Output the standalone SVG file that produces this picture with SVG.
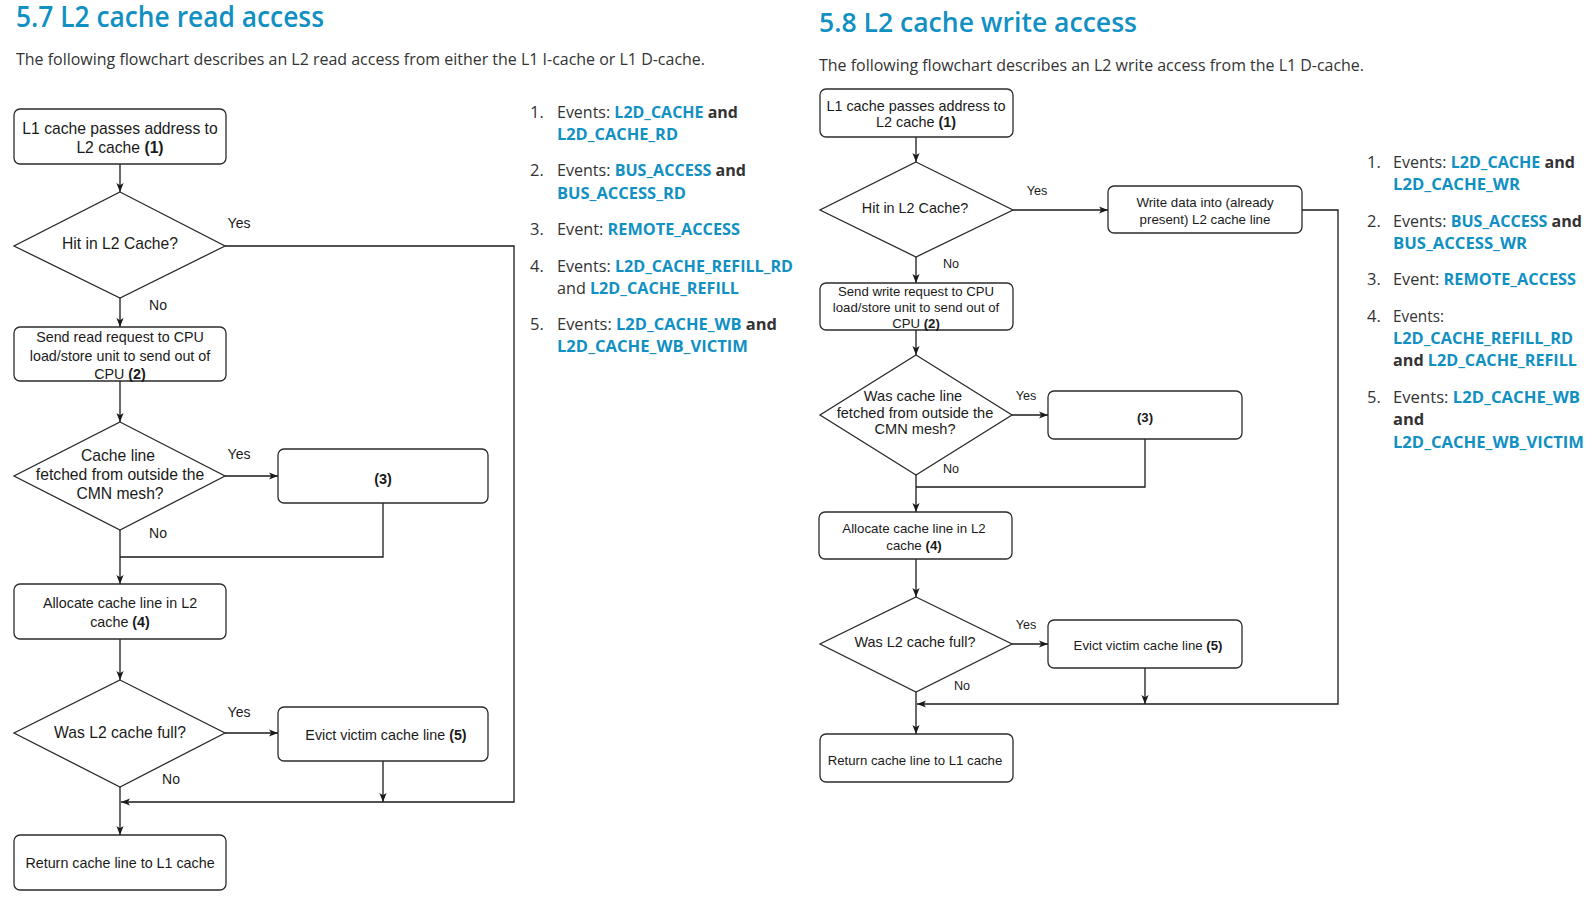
<svg xmlns="http://www.w3.org/2000/svg" width="1591" height="899" viewBox="0 0 1591 899">
<style>
.bg{fill:#ffffff}
.h{font-family:"Open Sans","Noto Sans",sans-serif;font-weight:600;fill:#1190c3}
.sub{font-family:"Open Sans","Noto Sans",sans-serif;font-size:16px;fill:#333333}
.li{font-family:"Open Sans","Noto Sans",sans-serif;font-size:16.5px;fill:#333333}
.b{font-weight:bold}
.ev{font-weight:bold;fill:#1190c3}
.box{fill:#ffffff;stroke:#2b2b2b;stroke-width:1.3}
.t{font-family:"Liberation Sans",Arial,sans-serif;fill:#1a1a1a;text-anchor:middle}
.lab{font-family:"Liberation Sans",Arial,sans-serif;fill:#1a1a1a;text-anchor:middle}
.c{fill:none;stroke:#1a1a1a;stroke-width:1.3}
.a{marker-end:url(#arr)}
</style>
<defs>
<marker id="arr" viewBox="0 0 10 10" refX="10" refY="5" markerWidth="9" markerHeight="9" markerUnits="userSpaceOnUse" orient="auto">
<path d="M0,1 L10,5 L0,9 L2.5,5 z" fill="#1a1a1a"/>
</marker>
</defs>
<rect class="bg" x="0" y="0" width="1591" height="899"/>

<!-- Headings and text -->
<g id="left-text">
<text class="h" x="16" y="27" font-size="28" textLength="308" lengthAdjust="spacingAndGlyphs">5.7 L2 cache read access</text>
<text class="sub" x="16" y="65" textLength="689" lengthAdjust="spacingAndGlyphs">The following flowchart describes an L2 read access from either the L1 I-cache or L1 D-cache.</text>
<g id="left-list">
<text class="li" x="530" y="118">1.</text>
<text class="li" x="557" y="118" textLength="181" lengthAdjust="spacingAndGlyphs">Events: <tspan class="ev">L2D_CACHE</tspan> <tspan class="b">and</tspan></text>
<text class="li ev" x="557" y="140" textLength="121" lengthAdjust="spacingAndGlyphs">L2D_CACHE_RD</text>
<text class="li" x="530" y="176">2.</text>
<text class="li" x="557" y="176" textLength="189" lengthAdjust="spacingAndGlyphs">Events: <tspan class="ev">BUS_ACCESS</tspan> <tspan class="b">and</tspan></text>
<text class="li ev" x="557" y="199" textLength="129" lengthAdjust="spacingAndGlyphs">BUS_ACCESS_RD</text>
<text class="li" x="530" y="235">3.</text>
<text class="li" x="557" y="235" textLength="183" lengthAdjust="spacingAndGlyphs">Event: <tspan class="ev">REMOTE_ACCESS</tspan></text>
<text class="li" x="530" y="272">4.</text>
<text class="li" x="557" y="272" textLength="236" lengthAdjust="spacingAndGlyphs">Events: <tspan class="ev">L2D_CACHE_REFILL_RD</tspan></text>
<text class="li" x="557" y="294" textLength="182" lengthAdjust="spacingAndGlyphs">and <tspan class="ev">L2D_CACHE_REFILL</tspan></text>
<text class="li" x="530" y="330">5.</text>
<text class="li" x="557" y="330" textLength="220" lengthAdjust="spacingAndGlyphs">Events:  <tspan class="ev">L2D_CACHE_WB</tspan> <tspan class="b">and</tspan></text>
<text class="li ev" x="557" y="352" textLength="191" lengthAdjust="spacingAndGlyphs">L2D_CACHE_WB_VICTIM</text>
</g>
</g>

<g id="right-text">
<text class="h" x="819" y="32" font-size="27" textLength="318" lengthAdjust="spacingAndGlyphs">5.8 L2 cache write access</text>
<text class="sub" x="819" y="71" textLength="545" lengthAdjust="spacingAndGlyphs">The following flowchart describes an L2 write access from the L1 D-cache.</text>
<g id="right-list">
<text class="li" x="1367" y="168">1.</text>
<text class="li" x="1393" y="168" textLength="182" lengthAdjust="spacingAndGlyphs">Events: <tspan class="ev">L2D_CACHE</tspan> <tspan class="b">and</tspan></text>
<text class="li ev" x="1393" y="190" textLength="127" lengthAdjust="spacingAndGlyphs">L2D_CACHE_WR</text>
<text class="li" x="1367" y="227">2.</text>
<text class="li" x="1393" y="227" textLength="189" lengthAdjust="spacingAndGlyphs">Events: <tspan class="ev">BUS_ACCESS</tspan> <tspan class="b">and</tspan></text>
<text class="li ev" x="1393" y="249" textLength="134" lengthAdjust="spacingAndGlyphs">BUS_ACCESS_WR</text>
<text class="li" x="1367" y="285">3.</text>
<text class="li" x="1393" y="285" textLength="183" lengthAdjust="spacingAndGlyphs">Event: <tspan class="ev">REMOTE_ACCESS</tspan></text>
<text class="li" x="1367" y="322">4.</text>
<text class="li" x="1393" y="322" textLength="51" lengthAdjust="spacingAndGlyphs">Events:</text>
<text class="li ev" x="1393" y="344" textLength="180" lengthAdjust="spacingAndGlyphs">L2D_CACHE_REFILL_RD</text>
<text class="li" x="1393" y="366" textLength="184" lengthAdjust="spacingAndGlyphs"><tspan class="b">and</tspan> <tspan class="ev">L2D_CACHE_REFILL</tspan></text>
<text class="li" x="1367" y="403">5.</text>
<text class="li" x="1393" y="403" textLength="187" lengthAdjust="spacingAndGlyphs">Events:  <tspan class="ev">L2D_CACHE_WB</tspan></text>
<text class="li b" x="1393" y="425">and</text>
<text class="li ev" x="1393" y="448" textLength="191" lengthAdjust="spacingAndGlyphs">L2D_CACHE_WB_VICTIM</text>
</g>
</g>

<!-- Connectors -->
<g id="connectors">
<path class="c a" d="M120,164 L120,192"/>
<path class="c a" d="M225,246 L514,246 L514,802 L121,802"/>
<path class="c a" d="M120,298 L120,327"/>
<path class="c a" d="M120,381 L120,422"/>
<path class="c a" d="M225,476 L278,476"/>
<path class="c" d="M383,503 L383,557 L120,557"/>
<path class="c a" d="M120,530 L120,584"/>
<path class="c a" d="M120,639 L120,680"/>
<path class="c a" d="M225,733 L278,733"/>
<path class="c a" d="M383,761 L383,802"/>
<path class="c a" d="M120,787 L120,835"/>

<path class="c a" d="M916,137 L916,162"/>
<path class="c a" d="M1013,210 L1108,210"/>
<path class="c a" d="M916,257 L916,283"/>
<path class="c a" d="M916,330 L916,355"/>
<path class="c a" d="M1012,415 L1048,415"/>
<path class="c" d="M1145,439 L1145,487 L916,487"/>
<path class="c a" d="M916,475 L916,512"/>
<path class="c a" d="M916,559 L916,597"/>
<path class="c a" d="M1012,644 L1048,644"/>
<path class="c a" d="M1145,668 L1145,704"/>
<path class="c a" d="M1302,210 L1338,210 L1338,704 L917,704"/>
<path class="c a" d="M916,692 L916,734"/>

<g id="connector-labels-left" class="lab" font-size="14">
<text x="239" y="228">Yes</text>
<text x="158" y="310">No</text>
<text x="239" y="459">Yes</text>
<text x="158" y="538">No</text>
<text x="239" y="717">Yes</text>
<text x="171" y="784">No</text>
</g>
<g id="connector-labels-right" class="lab" font-size="12.6">
<text x="1037" y="194.5">Yes</text>
<text x="951" y="267.5">No</text>
<text x="1026" y="399.5">Yes</text>
<text x="951" y="472.5">No</text>
<text x="1026" y="628.5">Yes</text>
<text x="962" y="689.5">No</text>
</g>
</g>

<!-- Left flowchart nodes -->
<g id="L-start">
<rect class="box" x="14" y="109" width="212" height="55" rx="6"/>
<text class="t" x="120" y="133.5" font-size="15.7">L1 cache passes address to</text>
<text class="t" x="120" y="152.5" font-size="15.7">L2 cache <tspan class="b">(1)</tspan></text>
</g>
<g id="L-hit">
<polygon class="box" points="120,192 225,246 120,298 14,246"/>
<text class="t" x="120" y="249" font-size="15.7">Hit in L2 Cache?</text>
</g>
<g id="L-send">
<rect class="box" x="14" y="327" width="212" height="54" rx="6"/>
<text class="t" x="120" y="342" font-size="14.3">Send read request to CPU</text>
<text class="t" x="120" y="360.5" font-size="14.3">load/store unit to send out of</text>
<text class="t" x="120" y="379" font-size="14.3">CPU <tspan class="b">(2)</tspan></text>
</g>
<g id="L-fetched">
<polygon class="box" points="120,422 225,476 120,530 14,476"/>
<text class="t" x="118" y="460.5" font-size="15.7">Cache line</text>
<text class="t" x="120" y="479.5" font-size="15.7">fetched from outside the</text>
<text class="t" x="120" y="498.5" font-size="15.7">CMN mesh?</text>
</g>
<g id="L-remote">
<rect class="box" x="278" y="449" width="210" height="54" rx="6"/>
<text class="t b" x="383" y="483.5" font-size="14.5">(3)</text>
</g>
<g id="L-alloc">
<rect class="box" x="14" y="584" width="212" height="55" rx="6"/>
<text class="t" x="120" y="608" font-size="14.3">Allocate cache line in L2</text>
<text class="t" x="120" y="627" font-size="14.3">cache <tspan class="b">(4)</tspan></text>
</g>
<g id="L-full">
<polygon class="box" points="120,680 225,733 120,787 14,733"/>
<text class="t" x="120" y="737.5" font-size="15.7">Was L2 cache full?</text>
</g>
<g id="L-evict">
<rect class="box" x="278" y="707" width="210" height="54" rx="6"/>
<text class="t" x="386" y="740" font-size="14.3">Evict victim cache line <tspan class="b">(5)</tspan></text>
</g>
<g id="L-return">
<rect class="box" x="14" y="835" width="212" height="55" rx="6"/>
<text class="t" x="120" y="868" font-size="14.3">Return cache line to L1 cache</text>
</g>

<!-- Right flowchart nodes -->
<g id="R-start">
<rect class="box" x="820" y="89" width="193" height="48" rx="6"/>
<text class="t" x="916" y="111.2" font-size="14.4">L1 cache passes address to</text>
<text class="t" x="916" y="127.2" font-size="14.4">L2 cache <tspan class="b">(1)</tspan></text>
</g>
<g id="R-hit">
<polygon class="box" points="916,162 1013,210 916,257 820,210"/>
<text class="t" x="915" y="213.2" font-size="14.4">Hit in L2 Cache?</text>
</g>
<g id="R-write">
<rect class="box" x="1108" y="186" width="194" height="47" rx="6"/>
<text class="t" x="1205" y="206.7" font-size="13.3">Write data into (already</text>
<text class="t" x="1205" y="223.7" font-size="13.3">present) L2 cache line</text>
</g>
<g id="R-send">
<rect class="box" x="820" y="283" width="193" height="47" rx="6"/>
<text class="t" x="916" y="295.7" font-size="13.2">Send write request to CPU</text>
<text class="t" x="916" y="311.7" font-size="13.2">load/store unit to send out of</text>
<text class="t" x="916" y="327.7" font-size="13.2">CPU <tspan class="b">(2)</tspan></text>
</g>
<g id="R-fetched">
<polygon class="box" points="916,355 1012,415 916,475 820,415"/>
<text class="t" x="913" y="401.2" font-size="14.6">Was cache line</text>
<text class="t" x="915" y="418.2" font-size="14.6">fetched from outside the</text>
<text class="t" x="915" y="434.2" font-size="14.6">CMN mesh?</text>
</g>
<g id="R-remote">
<rect class="box" x="1048" y="391" width="194" height="48" rx="6"/>
<text class="t b" x="1145" y="421.7" font-size="13.2">(3)</text>
</g>
<g id="R-alloc">
<rect class="box" x="819" y="512" width="193" height="47" rx="6"/>
<text class="t" x="914" y="532.7" font-size="13.3">Allocate cache line in L2</text>
<text class="t" x="914" y="549.7" font-size="13.3">cache <tspan class="b">(4)</tspan></text>
</g>
<g id="R-full">
<polygon class="box" points="916,597 1012,644 916,692 820,644"/>
<text class="t" x="915" y="647.2" font-size="14.4">Was L2 cache full?</text>
</g>
<g id="R-evict">
<rect class="box" x="1048" y="620" width="194" height="48" rx="6"/>
<text class="t" x="1148" y="649.7" font-size="13.2">Evict victim cache line <tspan class="b">(5)</tspan></text>
</g>
<g id="R-return">
<rect class="box" x="820" y="734" width="193" height="48" rx="6"/>
<text class="t" x="915" y="764.7" font-size="13.2">Return cache line to L1 cache</text>
</g>
</svg>
